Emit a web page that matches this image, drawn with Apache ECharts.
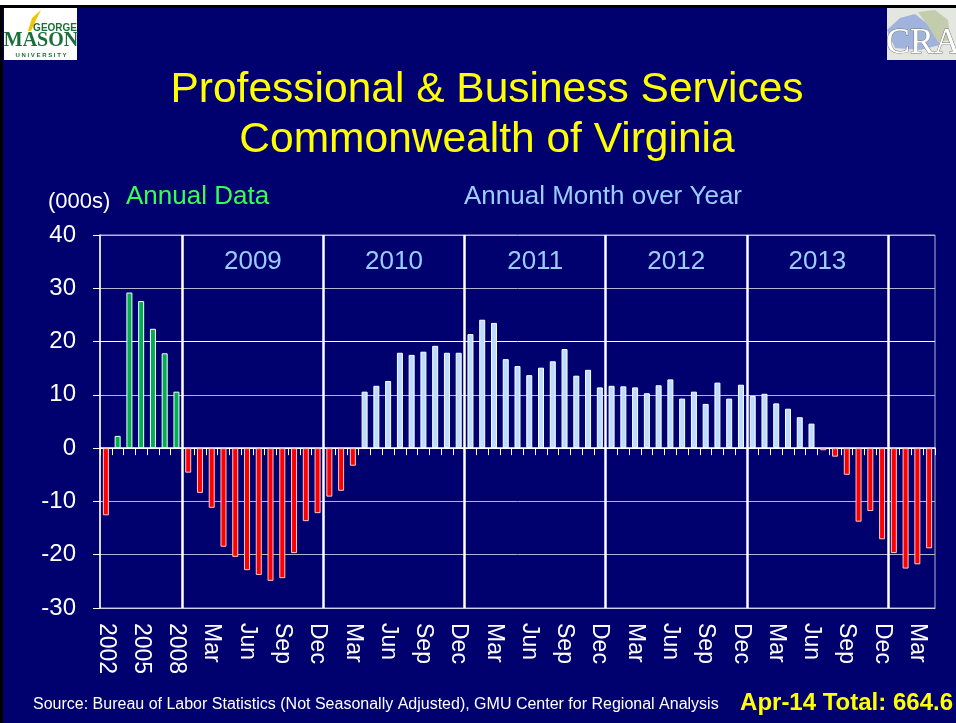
<!DOCTYPE html>
<html lang="en">
<head>
    <meta charset="UTF-8">
    <title>Professional & Business Services - Commonwealth of Virginia</title>
    <script src="https://cdn.jsdelivr.net/npm/echarts@6/dist/echarts.min.js"></script>
    <style>
        body, html {
            margin: 0;
            padding: 0;
            background: #00006e;
        }
        #main {
            width: 956px;
            height: 723px;
        }
    </style>
</head>
<body>
<div id="main"></div>

<script>
    // annual change (000s) 2002-2008
    var annualLabels = ['2002', '2003', '2004', '2005', '2006', '2007', '2008'];
    var annualValues = [-12.6, 2.3, 29.2, 27.6, 22.4, 17.8, 10.6];

    // month over year change (000s), Jan 2009 - Apr 2014
    var monthNames = ['Jan', 'Feb', 'Mar', 'Apr', 'May', 'Jun', 'Jul', 'Aug', 'Sep', 'Oct', 'Nov', 'Dec'];
    var yearLabels = ['2009', '2010', '2011', '2012', '2013', '2014'];
    var values2009 = [-4.6, -8.4, -11.2, -18.5, -20.4, -22.9, -23.8, -24.9, -24.4, -19.7, -13.7, -12.2];
    var values2010 = [-9.1, -8.0, -3.3, 10.6, 11.7, 12.6, 17.9, 17.5, 18.1, 19.2, 17.9, 17.9];
    var values2011 = [21.4, 24.1, 23.5, 16.7, 15.4, 13.7, 15.1, 16.3, 18.6, 13.6, 14.7, 11.4];
    var values2012 = [11.7, 11.6, 11.4, 10.3, 11.8, 12.9, 9.3, 10.6, 8.3, 12.3, 9.3, 11.9];
    var values2013 = [9.8, 10.2, 8.4, 7.4, 5.8, 4.6, -0.4, -1.6, -5.0, -13.8, -11.8, -17.1];
    var values2014 = [-19.7, -22.6, -21.8, -18.8];
    var monthlyByYear = [values2009, values2010, values2011, values2012, values2013, values2014];

    // build categories (unique keys) and bar items
    var categories = [];
    var barItems = [];
    annualLabels.forEach(function (y, i) {
        categories.push(y);
        barItems.push({
            value: annualValues[i],
            itemStyle: {color: annualValues[i] < 0 ? '#ff0000' : '#00b050', borderColor: annualValues[i] < 0 ? '#ffc8c8' : '#ffffff'}
        });
    });
    var separators = [];
    var yearBands = [];
    var pos = annualLabels.length;
    monthlyByYear.forEach(function (vals, yi) {
        separators.push({xAxis: pos});
        if (yi < monthlyByYear.length - 1) {
            yearBands.push([{xAxis: pos, name: yearLabels[yi]}, {xAxis: pos + vals.length}]);
        }
        vals.forEach(function (v, mi) {
            categories.push(yearLabels[yi] + '-' + monthNames[mi]);
            barItems.push({
                value: v,
                itemStyle: {color: v < 0 ? '#ff0000' : '#bcdcff', borderColor: v < 0 ? '#ffc8c8' : '#ffffff'}
            });
        });
        pos += vals.length;
    });
    var totalCats = categories.length;

    var chart = echarts.init(document.getElementById('main'));

    var font = 'Liberation Sans, Arial, sans-serif';

    var option = {
        backgroundColor: '#00006e',
        animation: false,
        grid: {
            left: 100,
            right: 21,
            top: 235,
            bottom: 115,
            show: true,
            borderColor: '#b4b4d2',
            borderWidth: 1
        },
        xAxis: [
            {
                type: 'category',
                data: categories,
                position: 'bottom',
                axisLine: {onZero: false, lineStyle: {color: '#d0d0e6', width: 1}},
                axisTick: {show: false},
                axisLabel: {
                    interval: 2,
                    rotate: -90,
                    margin: 15,
                    color: '#ffffff',
                    fontSize: 23,
                    fontFamily: font,
                    formatter: function (v) {
                        var parts = v.split('-');
                        return parts.length > 1 ? parts[1] : parts[0];
                    }
                },
                splitLine: {show: false}
            },
            {
                type: 'category',
                data: categories,
                position: 'top',
                axisLine: {onZero: true, lineStyle: {color: '#ffffff', width: 1.5}},
                axisTick: {show: true, inside: true, length: 7, interval: 0, lineStyle: {color: '#ffffff'}},
                axisLabel: {show: false},
                splitLine: {show: false}
            },
            {
                type: 'value',
                min: 0,
                max: totalCats,
                show: false,
                axisLine: {onZero: false}
            }
        ],
        yAxis: {
            type: 'value',
            min: -30,
            max: 40,
            interval: 10,
            axisLine: {show: true, onZero: false, lineStyle: {color: '#ffffff', width: 1.5}},
            axisTick: {show: true, length: 7, lineStyle: {color: '#ffffff'}},
            axisLabel: {
                color: '#ffffff',
                fontSize: 24,
                fontFamily: font,
                margin: 24
            },
            splitLine: {
                show: true,
                lineStyle: {
                    color: ['#b4b4d2', '#b4b4d2', '#b4b4d2', '#ffffff', '#b4b4d2', '#ffffff', '#b4b4d2', '#b4b4d2'],
                    width: 1
                }
            }
        },
        series: [
            {
                name: 'Change',
                type: 'bar',
                xAxisIndex: 0,
                barWidth: 6,
                itemStyle: {borderWidth: 1},
                data: barItems
            },
            {
                name: 'years',
                type: 'line',
                xAxisIndex: 2,
                data: [],
                silent: true,
                markLine: {
                    silent: true,
                    symbol: 'none',
                    label: {show: false},
                    lineStyle: {color: '#ffffff', width: 2.5, type: 'solid'},
                    data: separators
                },
                markArea: {
                    silent: true,
                    itemStyle: {color: 'rgba(0,0,0,0)'},
                    label: {
                        show: true,
                        position: 'insideTop',
                        distance: 14,
                        color: '#99ccff',
                        fontSize: 26,
                        fontFamily: font
                    },
                    data: yearBands
                }
            }
        ],
        graphic: [
            // slide frame
            {type: 'rect', shape: {x: 0, y: 0, width: 956, height: 5}, style: {fill: '#ffffff'}},
            {type: 'rect', shape: {x: 0, y: 5, width: 956, height: 3}, style: {fill: '#000000'}},
            {type: 'rect', shape: {x: 0, y: 5, width: 3, height: 718}, style: {fill: '#000000'}},
            // GMU logo
            {type: 'rect', shape: {x: 4, y: 8, width: 73, height: 52}, style: {fill: '#ffffff'}},
            {type: 'polygon', shape: {points: [[28, 31], [32, 18], [41, 10], [36, 20], [31, 31]]}, style: {fill: '#f2c400'}},
            {type: 'text', style: {x: 77, y: 33, text: 'GEORGE', fill: '#1a6e3a', font: 'bold 10px ' + font, textAlign: 'right', textVerticalAlign: 'bottom'}},
            {type: 'text', style: {x: 41, y: 51, text: 'MASON', fill: '#1a6e3a', font: 'bold 20px Liberation Serif, serif', textAlign: 'center', textVerticalAlign: 'bottom'}},
            {type: 'text', style: {x: 41, y: 58, text: 'U N I V E R S I T Y', fill: '#1a6e3a', font: 'bold 6px ' + font, textAlign: 'center', textVerticalAlign: 'bottom'}},
            // CRA logo
            {type: 'rect', shape: {x: 887, y: 8, width: 69, height: 52}, style: {fill: '#e4e7e0'}},
            {type: 'polygon', shape: {points: [[887, 30], [900, 18], [915, 14], [925, 22], [935, 30], [940, 45], [920, 50], [895, 48]]}, style: {fill: '#9fb3dc'}},
            {type: 'polygon', shape: {points: [[918, 12], [935, 10], [948, 20], [950, 40], [938, 42], [928, 26]]}, style: {fill: '#c4ccae'}},
            {type: 'text', style: {x: 886, y: 62, text: 'CRA', fill: '#ffffff', stroke: '#7a7a7a', lineWidth: 1, font: '36px Liberation Serif, serif', textAlign: 'left', textVerticalAlign: 'bottom'}},
            // title
            {type: 'text', style: {x: 487, y: 90, text: 'Professional & Business Services', fill: '#ffff00', font: '42.5px ' + font, textAlign: 'center', textVerticalAlign: 'middle'}},
            {type: 'text', style: {x: 487, y: 140, text: 'Commonwealth of Virginia', fill: '#ffff00', font: '42.5px ' + font, textAlign: 'center', textVerticalAlign: 'middle'}},
            // headers
            {type: 'text', style: {x: 48, y: 202, text: '(000s)', fill: '#ffffff', font: '22px ' + font, textAlign: 'left', textVerticalAlign: 'middle'}},
            {type: 'text', style: {x: 126, y: 197, text: 'Annual Data', fill: '#33ff55', font: '26px ' + font, textAlign: 'left', textVerticalAlign: 'middle'}},
            {type: 'text', style: {x: 603, y: 197, text: 'Annual Month over Year', fill: '#99ccff', font: '26px ' + font, textAlign: 'center', textVerticalAlign: 'middle'}},
            // footer
            {type: 'text', style: {x: 33, y: 705, text: 'Source: Bureau of Labor Statistics (Not Seasonally Adjusted), GMU Center for Regional Analysis', fill: '#ffffff', font: '16px ' + font, textAlign: 'left', textVerticalAlign: 'middle'}},
            {type: 'text', style: {x: 953, y: 703, text: 'Apr-14 Total: 664.6', fill: '#ffff00', font: 'bold 24px ' + font, textAlign: 'right', textVerticalAlign: 'middle'}}
        ]
    };

    chart.setOption(option);
</script>
</body>
</html>
